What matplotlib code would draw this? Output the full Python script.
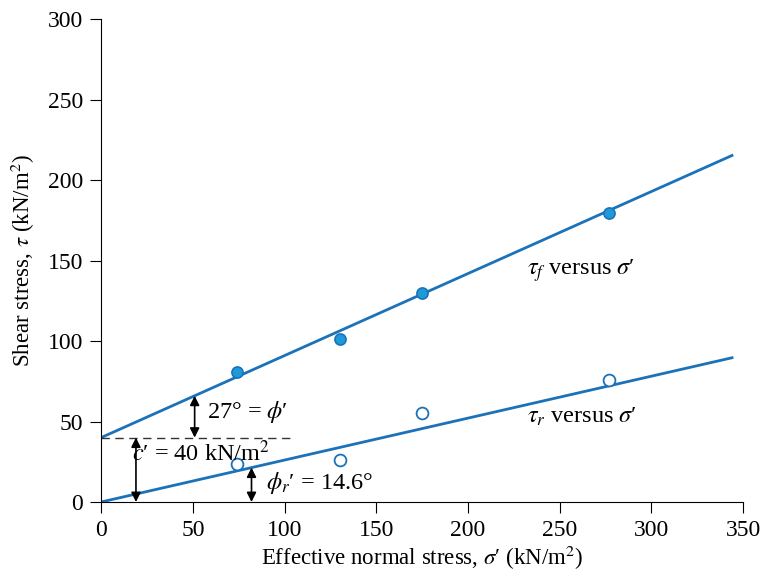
import numpy as np
import matplotlib
matplotlib.use("Agg")
import matplotlib.pyplot as plt

plt.rcParams['font.family'] = ['Liberation Serif', 'DejaVu Serif']
plt.rcParams['mathtext.fontset'] = 'stix'

# test data
sigma = [74, 130, 175, 277]
tau_f = [80.6, 101, 129.8, 179.7]
tau_r = [23.6, 26.1, 55.5, 75.8]

# fitted envelopes
c_peak = 40
phi_peak = 27
phi_res = 14.6
x_end = 344

blue = "#1b72b8"
fill = "#1f9ad8"

fig = plt.figure(figsize=(7.66, 5.79), dpi=100)
ax = fig.add_axes([0.132, 0.133, 0.838, 0.834])

xs = np.array([0, x_end])
ax.plot(xs, c_peak + np.tan(np.radians(phi_peak)) * xs, color=blue, lw=2)
ax.plot(xs, np.tan(np.radians(phi_res)) * xs, color=blue, lw=2)

ax.plot(sigma, tau_f, 'o', ms=8, mfc=fill, mec=blue, mew=1.2, zorder=3)
ax.plot(sigma, tau_r, 'o', ms=8.5, mfc='white', mec=blue, mew=1.3, zorder=3)

# cohesion dashed line
ax.plot([0, 105], [c_peak, c_peak], color='#333333', lw=1, dashes=(6, 4))

arrow = dict(arrowstyle='<|-|>', color='black', lw=1.2, mutation_scale=14, shrinkA=0, shrinkB=0)
ax.annotate('', xy=(51, 40), xytext=(51, 40 + np.tan(np.radians(phi_peak)) * 51), arrowprops=arrow)
ax.annotate('', xy=(19, 0), xytext=(19, 40), arrowprops=arrow)
ax.annotate('', xy=(82, 0), xytext=(82, np.tan(np.radians(phi_res)) * 82), arrowprops=arrow)

fs = 17.5
ax.text(58, 56, "27° = $\\phi$\u2032", fontsize=fs, va='center')
ax.text(17, 30, "$c$\u2032 = 40 kN/m$^2$", fontsize=fs, va='center')
ax.text(90, 12, "$\\phi_r$\u2032 = 14.6°", fontsize=fs, va='center')
ax.text(232, 144, "$\\tau_f$ versus $\\sigma$\u2032", fontsize=fs, va='center')
ax.text(232, 53, "$\\tau_r$ versus $\\sigma$\u2032", fontsize=fs, va='center')

ax.set_xlim(0, 350)
ax.set_ylim(0, 300)
ax.set_xticks(range(0, 351, 50))
ax.set_yticks(range(0, 301, 50))
for s in ['top', 'right']:
    ax.spines[s].set_visible(False)
ax.tick_params(axis='both', direction='out', length=8, labelsize=17, pad=5)
ax.set_xlabel("Effective normal stress, $\\sigma$\u2032 (kN/m$^2$)", fontsize=16.5, labelpad=2)
ax.set_ylabel("Shear stress, $\\tau$ (kN/m$^2$)", fontsize=16.5, labelpad=8)

fig.savefig("out.png", dpi=100)
